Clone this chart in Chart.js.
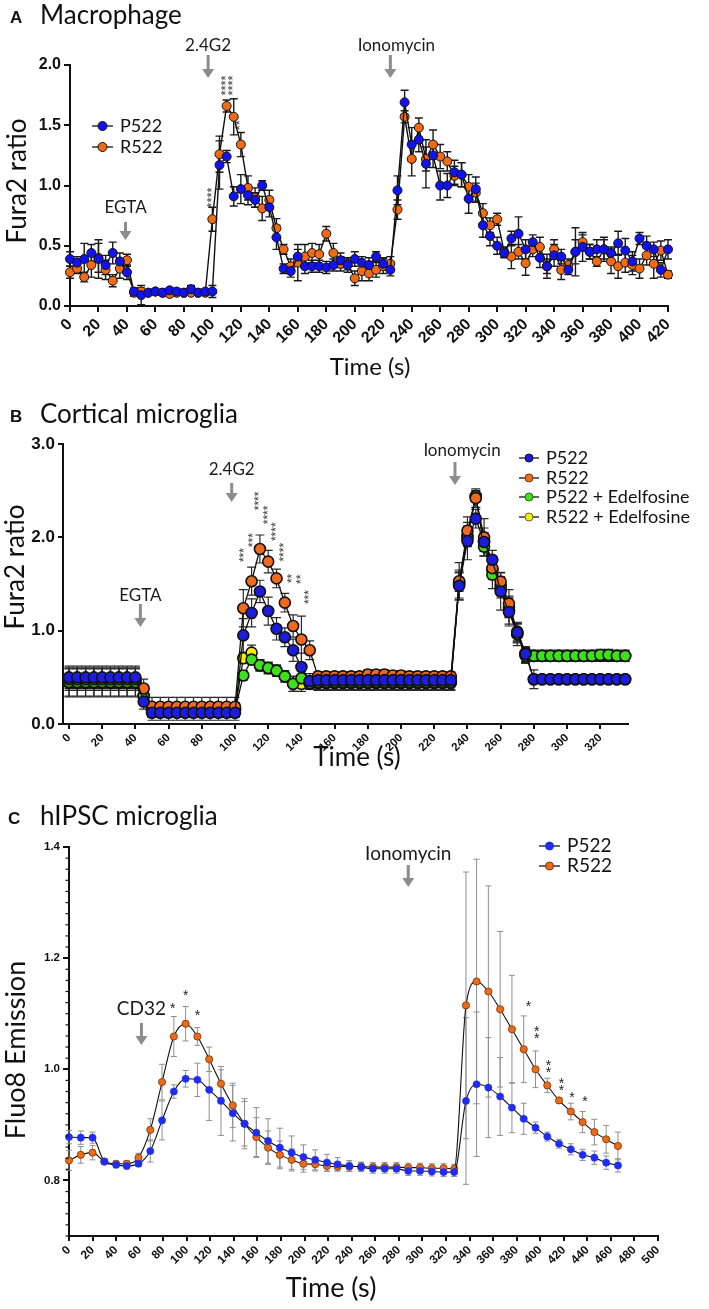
<!DOCTYPE html>
<html>
<head>
<meta charset="utf-8">
<script src="https://cdn.jsdelivr.net/npm/chart.js@4.4.1/dist/chart.umd.min.js"></script>
<style>
  body { margin: 0; background: #fff; width: 709px; height: 1309px; position: relative; overflow: hidden; }
  canvas { position: absolute; left: 0; }
</style>
</head>
<body>
<canvas id="chartA" width="709" height="385" style="top:0px"></canvas>
<canvas id="chartB" width="709" height="390" style="top:385px"></canvas>
<canvas id="chartC" width="709" height="534" style="top:775px"></canvas>
<script>
// ---------- panel A : macrophage ----------
const timeA = [0,5,10,15,20,25,30,35,40,45,50,55,60,65,70,75,80,85,90,95,100,105,110,115,120,125,130,135,140,145,150,155,160,165,170,175,180,185,190,195,200,205,210,215,220,225,230,235,240,245,250,255,260,265,270,275,280,285,290,295,300,305,310,315,320,325,330,335,340,345,350,355,360,365,370,375,380,385,390,395,400,405,410,415,420];
const p522A = [0.39,0.36,0.39,0.44,0.39,0.34,0.44,0.37,0.28,0.12,0.09,0.11,0.12,0.11,0.13,0.12,0.11,0.14,0.11,0.12,0.12,
  1.17,1.24,0.91,0.97,0.92,0.88,1.00,0.82,0.57,0.31,0.29,0.41,0.33,0.33,0.33,0.32,0.34,0.38,0.34,0.39,
  0.36,0.34,0.41,0.35,0.30,0.96,1.69,1.34,1.38,1.18,1.25,1.00,1.00,1.11,1.09,0.89,0.97,0.67,0.58,0.50,
  0.44,0.56,0.60,0.47,0.53,0.40,0.33,0.42,0.41,0.30,0.45,0.49,0.45,0.47,0.47,0.44,0.52,0.46,0.37,0.56,0.50,0.47,0.30,0.47];
const r522A = [0.28,0.31,0.24,0.34,0.40,0.30,0.21,0.31,0.38,0.11,0.12,0.11,0.12,0.11,0.10,0.11,0.11,0.11,0.11,0.11,0.72,
  1.26,1.66,1.57,1.34,0.98,0.90,0.81,0.88,0.645,0.47,0.33,0.36,0.41,0.44,0.43,0.60,0.44,0.35,0.35,0.23,
  0.29,0.27,0.30,0.33,0.35,0.80,1.57,1.22,1.48,1.22,1.34,1.24,1.20,1.08,1.09,0.99,0.94,0.77,0.67,0.72,
  0.45,0.41,0.45,0.355,0.47,0.49,0.33,0.47,0.30,0.34,0.45,0.53,0.45,0.37,0.47,0.37,0.33,0.36,0.34,0.31,0.42,0.35,0.46,0.26];
const p522ErrA = [0.06,0.05,0.13,0.07,0.16,0.08,0.09,0.07,0.06,0.03,0.08,0.02,0.02,0.02,0.02,0.02,0.02,0.03,0.02,0.02,0.05,
  0.20,0.05,0.08,0.12,0.08,0.06,0.04,0.08,0.10,0.04,0.05,0.06,0.06,0.05,0.05,0.05,0.05,0.06,0.06,0.06,
  0.05,0.06,0.04,0.05,0.05,0.12,0.10,0.14,0.10,0.20,0.10,0.12,0.10,0.10,0.10,0.12,0.10,0.10,0.08,0.07,
  0.04,0.06,0.14,0.08,0.06,0.08,0.10,0.09,0.06,0.04,0.20,0.12,0.06,0.08,0.10,0.05,0.10,0.10,0.08,0.05,0.08,0.06,0.06,0.08];
const r522ErrA = [0.05,0.04,0.04,0.10,0.12,0.08,0.05,0.08,0.05,0.03,0.03,0.02,0.02,0.02,0.02,0.02,0.02,0.02,0.02,0.02,0.10,
  0.15,0.05,0.15,0.10,0.10,0.08,0.10,0.08,0.08,0.04,0.06,0.15,0.10,0.08,0.08,0.06,0.08,0.06,0.05,0.06,
  0.08,0.06,0.06,0.06,0.06,0.08,0.05,0.14,0.08,0.10,0.12,0.10,0.08,0.08,0.10,0.10,0.08,0.08,0.06,0.05,
  0.04,0.10,0.06,0.10,0.06,0.08,0.06,0.08,0.08,0.05,0.10,0.06,0.06,0.04,0.08,0.10,0.10,0.08,0.08,0.08,0.08,0.12,0.08,0.03];
const xTicksA = [0,20,40,60,80,100,120,140,160,180,200,220,240,260,280,300,320,340,360,380,400,420];
const yTicksA = [0,0.5,1.0,1.5,2.0];
const starTimesA = [100,110,115,120];
const starLevelsA = [0.90,1.83,1.83,1.50];
const starMarksA = ['****','****','****','**'];

// ---------- panel B : cortical microglia ----------
const timeB = [0,5,10,15,20,25,30,35,40,45,50,55,60,65,70,75,80,85,90,95,100,105,110,115,120,125,130,135,140,145,150,155,160,165,170,175,180,185,190,195,200,205,210,215,220,225,230,235,240,245,250,255,260,265,270,275,280,285,290,295,300,305,310,315,320,325,330,335];
const p522B = [0.50,0.50,0.50,0.50,0.50,0.50,0.50,0.50,0.50,0.24,
  0.12,0.12,0.12,0.12,0.12,0.12,0.12,0.12,0.12,0.12,0.12,
  0.95,1.19,1.42,1.21,1.02,0.93,0.79,0.61,0.46,
  0.47,0.47,0.47,0.47,0.47,0.47,0.47,0.47,0.47,0.47,0.47,0.47,0.47,0.47,0.47,0.47,0.47,
  1.48,1.96,2.20,1.95,1.76,1.42,1.20,0.98,0.75,
  0.48,0.48,0.48,0.48,0.48,0.48,0.48,0.48,0.48,0.48,0.48,0.48];
const r522B = [0.48,0.48,0.48,0.48,0.48,0.48,0.48,0.48,0.48,0.38,
  0.185,0.185,0.185,0.185,0.185,0.185,0.185,0.185,0.185,0.185,0.185,
  1.24,1.53,1.875,1.74,1.56,1.30,1.05,0.905,0.79,
  0.51,0.51,0.51,0.51,0.51,0.51,0.53,0.53,0.53,0.52,0.52,0.51,0.51,0.51,0.51,0.51,0.51,
  1.53,2.07,2.42,2.00,1.67,1.525,1.29,0.99,0.76,
  0.48,0.48,0.48,0.48,0.48,0.48,0.48,0.48,0.48,0.48,0.48,0.48];
const p522EdB = [0.45,0.45,0.45,0.45,0.45,0.45,0.45,0.45,0.45,0.30,
  0.15,0.15,0.15,0.15,0.15,0.15,0.15,0.15,0.15,0.15,0.15,
  0.52,0.69,0.63,0.60,0.57,0.51,0.43,0.49,0.44,
  0.45,0.45,0.45,0.45,0.45,0.45,0.45,0.45,0.45,0.45,0.45,0.45,0.45,0.45,0.45,0.45,0.45,
  1.50,2.00,2.44,1.90,1.60,1.45,1.22,0.96,0.73,
  0.73,0.73,0.73,0.73,0.73,0.73,0.73,0.73,0.74,0.74,0.73,0.73];
const r522EdB = [0.44,0.44,0.44,0.44,0.44,0.44,0.44,0.44,0.44,0.30,
  0.15,0.15,0.15,0.15,0.15,0.15,0.15,0.15,0.15,0.15,0.15,
  0.705,0.765,0.63,0.60,0.57,0.51,0.43,0.43,0.43,
  0.44,0.44,0.44,0.44,0.44,0.44,0.44,0.44,0.44,0.44,0.44,0.44,0.44,0.44,0.44,0.44,0.44,
  1.52,2.02,2.44,1.95,1.65,1.48,1.25,0.97,0.74,
  0.73,0.73,0.73,0.73,0.73,0.73,0.73,0.73,0.73,0.73,0.73,0.73];
const p522ErrB = [0.12,0.12,0.12,0.12,0.12,0.12,0.12,0.12,0.12,0.08,
  0.08,0.08,0.08,0.08,0.08,0.08,0.08,0.08,0.08,0.08,0.08,
  0.18,0.15,0.12,0.15,0.12,0.10,0.12,0.15,0.08,
  0.06,0.06,0.06,0.06,0.06,0.06,0.06,0.06,0.06,0.06,0.06,0.06,0.06,0.06,0.06,0.06,0.06,
  0.15,0.20,0.10,0.15,0.10,0.20,0.15,0.10,0.08,
  0.10,0.03,0.03,0.03,0.03,0.03,0.03,0.03,0.03,0.03,0.03,0.03];
const r522ErrB = [0.12,0.12,0.12,0.12,0.12,0.12,0.12,0.12,0.12,0.10,
  0.10,0.10,0.10,0.10,0.10,0.10,0.10,0.10,0.10,0.10,0.10,
  0.20,0.15,0.15,0.12,0.10,0.10,0.12,0.25,0.10,
  0.05,0.05,0.05,0.05,0.05,0.05,0.05,0.05,0.05,0.05,0.05,0.05,0.05,0.05,0.05,0.05,0.05,
  0.20,0.15,0.10,0.20,0.10,0.10,0.15,0.10,0.06,
  0.03,0.03,0.03,0.03,0.03,0.03,0.03,0.03,0.03,0.03,0.03,0.03];
const p522EdErrB = [0.15,0.15,0.15,0.15,0.15,0.15,0.15,0.15,0.15,0.10,
  0.08,0.08,0.08,0.08,0.08,0.08,0.08,0.08,0.08,0.08,0.08,
  0.05,0.05,0.06,0.06,0.06,0.06,0.08,0.08,0.06,
  0.08,0.08,0.08,0.08,0.08,0.08,0.08,0.08,0.08,0.08,0.08,0.08,0.08,0.08,0.08,0.08,0.08,
  0.15,0.10,0.06,0.10,0.15,0.10,0.15,0.12,0.08,
  0.06,0.06,0.06,0.06,0.06,0.06,0.06,0.06,0.06,0.06,0.06,0.06];
const r522EdErrB = [0.15,0.15,0.15,0.15,0.15,0.15,0.15,0.15,0.15,0.10,
  0.08,0.08,0.08,0.08,0.08,0.08,0.08,0.08,0.08,0.08,0.08,
  0.05,0.08,0.06,0.06,0.06,0.06,0.08,0.08,0.06,
  0.08,0.08,0.08,0.08,0.08,0.08,0.08,0.08,0.08,0.08,0.08,0.08,0.08,0.08,0.08,0.08,0.08,
  0.10,0.10,0.06,0.10,0.10,0.10,0.10,0.10,0.08,
  0.06,0.06,0.06,0.06,0.06,0.06,0.06,0.06,0.06,0.06,0.06,0.06];
const xTicksB = [0,20,40,60,80,100,120,140,160,180,200,220,240,260,280,300,320];
const yTicksB = [0,1.0,2.0,3.0];
const starTimesB = [106,111,115,120,125,130,135,140,145];
const starLevelsB = [1.81,1.97,2.39,2.24,2.06,1.84,1.56,1.55,1.36];
const starMarksB = ['***','***','****','****','****','****','**','**','***'];

// ---------- panel C : hIPSC microglia ----------
const timeC = [0,10,20,30,40,49,59,69,79,89,99,109,119,129,139,149,159,169,179,189,199,209,219,228,238,248,258,268,278,288,298,308,318,327,337,346,356,366,376,386,396,406,416,426,436,446,456,466];
const p522C = [0.878,0.877,0.877,0.834,0.828,0.826,0.830,0.853,0.908,0.960,
  0.983,0.981,0.963,0.943,0.921,0.902,0.886,0.871,0.859,0.850,
  0.842,0.837,0.832,0.829,0.826,0.824,0.821,0.821,0.821,0.817,
  0.817,0.816,0.815,0.815,
  0.943,0.973,0.967,0.951,0.931,0.911,0.895,0.879,0.866,0.856,
  0.846,0.841,0.832,0.827];
const r522C = [0.836,0.846,0.850,0.834,0.830,0.830,0.841,0.891,0.977,1.059,
  1.082,1.059,1.018,0.974,0.935,0.902,0.878,0.859,0.846,0.837,
  0.830,0.829,0.826,0.825,0.825,0.825,0.824,0.824,0.824,0.823,
  0.823,0.822,0.822,0.821,
  1.115,1.158,1.140,1.108,1.072,1.036,1.000,0.971,0.944,0.924,
  0.905,0.887,0.874,0.862];
const p522ErrC = [0.012,0.012,0.010,0.005,0.005,0.005,0.005,0.020,0.035,0.012,
  0.015,0.030,0.055,0.062,0.050,0.045,0.045,0.040,0.035,0.030,
  0.022,0.018,0.015,0.012,0.010,0.008,0.008,0.008,0.008,0.008,
  0.008,0.008,0.008,0.008,
  0.150,0.130,0.090,0.070,0.045,0.028,0.010,0.008,0.008,0.010,
  0.010,0.012,0.012,0.012];
const r522ErrC = [0.018,0.015,0.013,0.005,0.005,0.005,0.008,0.020,0.032,0.036,
  0.031,0.016,0.022,0.025,0.040,0.040,0.035,0.030,0.025,0.020,
  0.015,0.012,0.010,0.008,0.008,0.008,0.008,0.008,0.008,0.008,
  0.008,0.008,0.008,0.008,
  0.240,0.220,0.190,0.140,0.097,0.060,0.033,0.013,0.005,0.015,
  0.019,0.023,0.025,0.025];
const xTicksC = [0,20,40,60,80,100,120,140,160,180,200,220,240,260,280,300,320,340,360,380,400,420,440,460,480,500];
const yTicksC = [0.8,1.0,1.2,1.4];
const starTimesC = [88,99,109,390,397,407,418,427,438];
const starLevelsC = [1.115,1.139,1.103,1.119,1.067,1.007,0.975,0.955,0.948];
const starCountC = [1,1,1,1,2,2,2,1,1];

// ---------- helpers ----------
const FONT = 'Lato, "Open Sans", sans-serif';
const TICKFONT = '"Liberation Sans", Arial, sans-serif';
const INK = '#111';

function points(times, vals) {
  return times.map((t, i) => ({x: t, y: vals[i]}));
}

function series(label, times, vals, errs, fill, extra) {
  return Object.assign({
    label: label,
    data: points(times, vals),
    errors: errs,
    borderColor: INK,
    borderWidth: 1.4,
    pointBackgroundColor: fill,
    pointBorderColor: INK,
    pointBorderWidth: 1,
    pointRadius: 4.5,
    pointHoverRadius: 4.5,
    tension: 0,
    clip: false
  }, extra || {});
}

function axis(o) {
  return {
    type: 'linear', min: o.min, max: o.max,
    afterBuildTicks: s => { s.ticks = o.ticks.map(v => ({value: v})); },
    afterFit: s => { if (o.width) s.width = o.width; if (o.height) s.height = o.height; },
    grid: {drawOnChartArea: false, drawTicks: true, tickLength: o.tickLen, color: INK, lineWidth: o.lw},
    border: {display: true, color: INK, width: o.lw},
    ticks: {
      font: {family: TICKFONT, weight: 'bold', size: o.fs}, color: INK, padding: o.pad,
      minRotation: o.rot || 0, maxRotation: o.rot || 0, autoSkip: false,
      callback: o.fmt
    }
  };
}

function text(ctx, s, x, y, size, o) {
  o = o || {};
  ctx.save();
  ctx.font = (o.weight || 'normal') + ' ' + size + 'px ' + (o.family || FONT);
  ctx.fillStyle = o.color || INK;
  ctx.textAlign = o.align || 'left';
  ctx.textBaseline = o.baseline || 'alphabetic';
  ctx.translate(x, y);
  if (o.rot) ctx.rotate(o.rot);
  ctx.fillText(s, 0, 0);
  ctx.restore();
}

function arrow(ctx, x, y1, y2) {
  const head = 9;
  ctx.save();
  ctx.fillStyle = '#8c8c8c';
  ctx.fillRect(x - 1.5, y1, 3, y2 - y1 - head + 1);
  ctx.beginPath();
  ctx.moveTo(x - 6, y2 - head);
  ctx.lineTo(x + 6, y2 - head);
  ctx.lineTo(x, y2);
  ctx.closePath();
  ctx.fill();
  ctx.restore();
}

function errorBars(style) {
  return {
    id: 'errorBars',
    beforeDatasetsDraw(chart) {
      const ctx = chart.ctx, xs = chart.scales.x, ys = chart.scales.y;
      ctx.save();
      ctx.strokeStyle = style.color;
      ctx.lineWidth = style.width;
      chart.data.datasets.slice().reverse().forEach(ds => {
        if (!ds.errors) return;
        ds.data.forEach((p, i) => {
          const e = ds.errors[i];
          const px = xs.getPixelForValue(p.x);
          const top = ys.getPixelForValue(p.y + e);
          const bot = ys.getPixelForValue(p.y - e);
          ctx.beginPath();
          ctx.moveTo(px, top); ctx.lineTo(px, bot);
          ctx.moveTo(px - style.cap, top); ctx.lineTo(px + style.cap, top);
          ctx.moveTo(px - style.cap, bot); ctx.lineTo(px + style.cap, bot);
          ctx.stroke();
        });
      });
      ctx.restore();
    }
  };
}

function decor(spec) {
  return {
    id: 'decor',
    afterDraw(chart) {
      const ctx = chart.ctx, xs = chart.scales.x, ys = chart.scales.y;
      text(ctx, spec.letter, spec.letterX, spec.titleY - 1, 17, {weight: 'bold', family: TICKFONT});
      text(ctx, spec.title, 40, spec.titleY, 26);
      text(ctx, spec.yTitle, spec.yTitleAt[0], spec.yTitleAt[1], spec.yTitleSize,
        {align: 'center', baseline: 'middle', rot: -Math.PI / 2});
      text(ctx, spec.xTitle, spec.xTitleAt[0], spec.xTitleAt[1], spec.xTitleSize,
        {align: 'center', baseline: 'middle'});

      spec.arrows.forEach(a => {
        const px = xs.getPixelForValue(a.t);
        text(ctx, a.label, px + (a.dx || 0), a.labelY, spec.arrowSize, {align: 'center', color: '#1a1a1a'});
        arrow(ctx, px, a.y1, a.y2);
      });

      if (spec.extra) spec.extra(ctx, xs, ys);

      const lg = spec.legend;
      lg.names.forEach((n, i) => {
        const y = lg.rows[i];
        ctx.save();
        ctx.strokeStyle = INK; ctx.lineWidth = 1.3;
        ctx.beginPath(); ctx.moveTo(lg.x1, y); ctx.lineTo(lg.x2, y); ctx.stroke();
        ctx.beginPath(); ctx.arc((lg.x1 + lg.x2) / 2, y, lg.r, 0, Math.PI * 2);
        ctx.fillStyle = lg.fills[i]; ctx.fill();
        ctx.strokeStyle = lg.borders[i]; ctx.lineWidth = 1; ctx.stroke();
        ctx.restore();
        text(ctx, n, lg.tx, y, lg.size, {baseline: 'middle'});
      });
    }
  };
}

function rotatedStars(times, levels, marks, size) {
  return (ctx, xs, ys) => {
    times.forEach((t, i) => {
      text(ctx, marks[i], xs.getPixelForValue(t), ys.getPixelForValue(levels[i]), size,
        {align: 'center', baseline: 'middle', rot: -Math.PI / 2, family: TICKFONT, color: '#333'});
    });
  };
}

const baseOptions = (pad) => ({
  responsive: false,
  animation: false,
  events: [],
  layout: {padding: pad},
  plugins: {legend: {display: false}, tooltip: {enabled: false}}
});

// ---------- chart A ----------
new Chart(document.getElementById('chartA'), {
  type: 'line',
  data: {datasets: [
    series('P522', timeA, p522A, p522ErrA, '#1212f0'),
    series('R522', timeA, r522A, r522ErrA, '#f26b12')
  ]},
  options: Object.assign(baseOptions({top: 65, right: 41, left: 0, bottom: 0}), {
    scales: {
      x: axis({min: 0, max: 420, ticks: xTicksA, height: 79, tickLen: 6, lw: 2, fs: 16, pad: 3, rot: 45, fmt: v => String(v)}),
      y: axis({min: 0, max: 2, ticks: yTicksA, width: 70, tickLen: 6, lw: 2, fs: 16, pad: 3, fmt: v => v.toFixed(1)})
    }
  }),
  plugins: [errorBars({color: '#1a1a1a', width: 1.4, cap: 4}), decor({
    letter: 'A', letterX: 10, title: 'Macrophage', titleY: 24,
    yTitle: 'Fura2 ratio', yTitleAt: [18, 181], yTitleSize: 26,
    xTitle: 'Time (s)', xTitleAt: [370, 367], xTitleSize: 24,
    arrowSize: 17,
    arrows: [
      {t: 39, label: 'EGTA', labelY: 213, y1: 222, y2: 240},
      {t: 97, label: '2.4G2', labelY: 51, y1: 55, y2: 78},
      {t: 225, label: 'Ionomycin', dx: 6, labelY: 51, y1: 55, y2: 78}
    ],
    extra: rotatedStars(starTimesA, starLevelsA, starMarksA, 13),
    legend: {names: ['P522', 'R522'], fills: ['#1212f0', '#f26b12'], borders: [INK, INK],
      x1: 92, x2: 113, tx: 120, rows: [126, 147], r: 4.5, size: 18}
  })]
});

// ---------- chart B ----------
const bStyle = {pointRadius: 5.5, pointHoverRadius: 5.5, pointBorderWidth: 1.6, borderWidth: 1.3};
new Chart(document.getElementById('chartB'), {
  type: 'line',
  data: {datasets: [
    series('P522', timeB, p522B, p522ErrB, '#1c1cdc', bStyle),
    series('R522', timeB, r522B, r522ErrB, '#ef6a1e', bStyle),
    series('P522 + Edelfosine', timeB, p522EdB, p522EdErrB, '#3ee01c', bStyle),
    series('R522 + Edelfosine', timeB, r522EdB, r522EdErrB, '#f4ee0a', bStyle)
  ]},
  options: Object.assign(baseOptions({top: 59, right: 81, left: 0, bottom: 0}), {
    scales: {
      x: axis({min: -3.6, max: 336.7, ticks: xTicksB, height: 51, tickLen: 5, lw: 2, fs: 11.5, pad: 2, rot: 45, fmt: v => String(v)}),
      y: axis({min: 0, max: 3, ticks: yTicksB, width: 63, tickLen: 5, lw: 2, fs: 17, pad: 3, fmt: v => v.toFixed(1)})
    }
  }),
  plugins: [errorBars({color: '#2a2a2a', width: 1.2, cap: 4.5}), decor({
    letter: 'B', letterX: 10, title: 'Cortical microglia', titleY: 38,
    yTitle: 'Fura2 ratio', yTitleAt: [16, 182], yTitleSize: 26,
    xTitle: 'Time (s)', xTitleAt: [357, 373], xTitleSize: 26,
    arrowSize: 17,
    arrows: [
      {t: 43, label: 'EGTA', labelY: 216, y1: 219, y2: 242},
      {t: 98, label: '2.4G2', labelY: 90, y1: 98, y2: 117},
      {t: 232.5, label: 'Ionomycin', dx: 7, labelY: 71, y1: 77, y2: 100}
    ],
    extra: rotatedStars(starTimesB, starLevelsB, starMarksB, 12),
    legend: {names: ['P522', 'R522', 'P522 + Edelfosine', 'R522 + Edelfosine'],
      fills: ['#1c1cdc', '#ef6a1e', '#3ee01c', '#f4ee0a'], borders: [INK, '#7a3a10', '#2a6a10', '#6a6a10'],
      x1: 519, x2: 539, tx: 546, rows: [73, 93, 112, 132], r: 4, size: 18}
  })]
});

// ---------- chart C ----------
new Chart(document.getElementById('chartC'), {
  type: 'line',
  data: {datasets: [
    series('P522', timeC, p522C, p522ErrC, '#1f2cf5',
      {pointRadius: 3.6, pointHoverRadius: 3.6, pointBorderColor: '#1f2cf5', pointBorderWidth: 0.5,
       borderWidth: 1.1, cubicInterpolationMode: 'monotone'}),
    series('R522', timeC, r522C, r522ErrC, '#ee6a1a',
      {pointRadius: 3.6, pointHoverRadius: 3.6, pointBorderColor: '#7a3300', pointBorderWidth: 0.8,
       borderWidth: 1.1, cubicInterpolationMode: 'monotone'})
  ]},
  options: Object.assign(baseOptions({top: 72, right: 51, left: 0, bottom: 0}), {
    scales: {
      x: axis({min: 0, max: 500, ticks: xTicksC, height: 73, tickLen: 5, lw: 2, fs: 12, pad: 2, rot: 45, fmt: v => String(v)}),
      y: axis({min: 0.7, max: 1.4, ticks: yTicksC, width: 69, tickLen: 6, lw: 2, fs: 11.5, pad: 3, fmt: v => v.toFixed(1)})
    }
  }),
  plugins: [errorBars({color: '#8f8f8f', width: 1, cap: 3}), decor({
    letter: 'C', letterX: 8, title: 'hIPSC microglia', titleY: 50,
    yTitle: 'Fluo8 Emission', yTitleAt: [16, 275], yTitleSize: 27,
    xTitle: 'Time (s)', xTitleAt: [331, 513], xTitleSize: 27,
    arrowSize: 19,
    arrows: [
      {t: 61.5, label: 'CD32', labelY: 240, y1: 248, y2: 270},
      {t: 288, label: 'Ionomycin', labelY: 85, y1: 90, y2: 112}
    ],
    extra: (ctx, xs, ys) => {
      // minor ticks on the y axis
      ctx.save();
      ctx.strokeStyle = INK; ctx.lineWidth = 1.2;
      const ax = xs.left;
      for (let k = 35; k <= 70; k++) {
        const py = ys.getPixelForValue(k / 50);
        ctx.beginPath(); ctx.moveTo(ax - 3.5, py); ctx.lineTo(ax, py); ctx.stroke();
      }
      ctx.restore();
      starTimesC.forEach((t, i) => {
        const px = xs.getPixelForValue(t), py = ys.getPixelForValue(starLevelsC[i]);
        for (let n = 0; n < starCountC[i]; n++) {
          const off = (n - (starCountC[i] - 1) / 2) * 7;
          text(ctx, '*', px, py + off + 4, 14, {align: 'center', baseline: 'middle', family: TICKFONT, color: '#222'});
        }
      });
    },
    legend: {names: ['P522', 'R522'], fills: ['#1f2cf5', '#ee6a1a'], borders: ['#1f2cf5', '#7a3300'],
      x1: 539, x2: 560, tx: 567, rows: [71, 91], r: 4, size: 19}
  })]
});
</script>
</body>
</html>
